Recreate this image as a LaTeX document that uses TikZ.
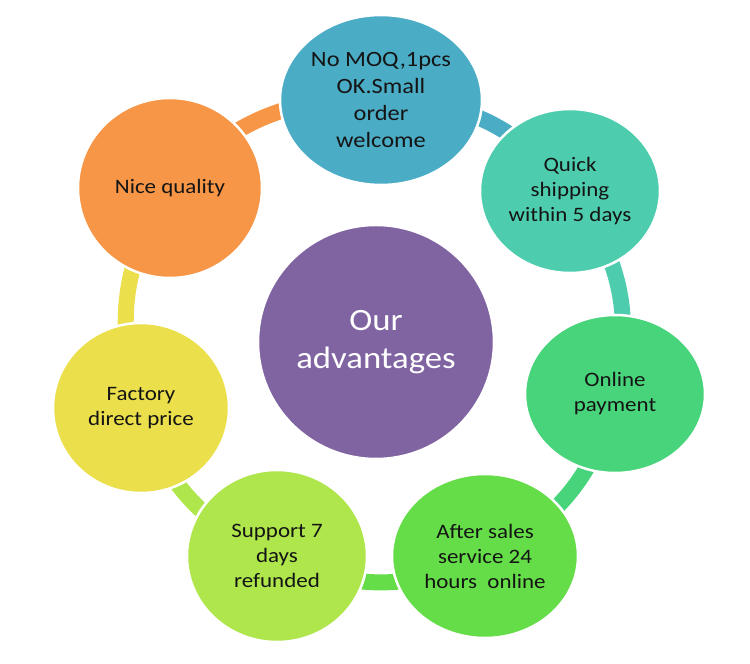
\documentclass[tikz,border=0pt]{standalone}
\usepackage{fontspec}
\setmainfont{Carlito}[FakeStretch=1.12]
\usetikzlibrary{shapes.geometric,backgrounds}
\definecolor{cpurple}{HTML}{8064A2}
\definecolor{cblue}{HTML}{4BACC6}
\definecolor{cteal}{HTML}{4ECDAE}
\definecolor{cgreen}{HTML}{48D47A}
\definecolor{cgreenb}{HTML}{64DD48}
\definecolor{clime}{HTML}{AEE64C}
\definecolor{cyellow}{HTML}{EBE04B}
\definecolor{corange}{HTML}{F79646}
\definecolor{ctext}{HTML}{141414}
\tikzset{
  bubble/.style={ellipse, draw=white, line width=2.5pt, inner sep=0pt, align=center,
    text=ctext, font=\fontsize{20.5}{25}\selectfont},
  conn/.style={line width=16pt, bend left=25.7}
}
\begin{document}
\begin{tikzpicture}[x=1pt,y=1pt]
\useasboundingbox (0,0) rectangle (750,664);
\node[bubble, fill=cpurple, minimum width=236pt, minimum height=234pt, text=white,
  font=\fontsize{31}{38}\selectfont] (c) at (376,322) {Our\\advantages};
\node[bubble, fill=cblue, minimum width=202pt, minimum height=170pt,
  font=\fontsize{21.8}{26.7}\selectfont] (n1) at (381,564) {No MOQ,1pcs\\OK.Small\\order\\welcome};
\node[bubble, fill=cteal, minimum width=180pt, minimum height=164pt] (n2) at (570,473) {Quick\\shipping\\within 5 days};
\node[bubble, fill=cgreen, minimum width=180pt, minimum height=158pt] (n3) at (615,270) {Online\\payment};
\node[bubble, fill=cgreenb, minimum width=186pt, minimum height=164pt] (n4) at (485,108) {After sales\\service 24\\hours\ \ online};
\node[bubble, fill=clime, minimum width=180pt, minimum height=172pt] (n5) at (277,108) {Support 7\\days\\refunded};
\node[bubble, fill=cyellow, minimum width=176pt, minimum height=170pt] (n6) at (141,256) {Factory\\direct price};
\node[bubble, fill=corange, minimum width=184pt, minimum height=180pt] (n7) at (170,476) {Nice quality};
\begin{scope}[on background layer]
\fill[white] (0,0) rectangle (750,664);
\draw[conn, cblue] (n1.center) to (n2.center);
\draw[conn, cteal] (n2.center) to (n3.center);
\draw[conn, cgreen] (n3.center) to (n4.center);
\draw[conn, cgreenb] (n4.center) to (n5.center);
\draw[conn, clime] (n5.center) to (n6.center);
\draw[conn, cyellow] (n6.center) to (n7.center);
\draw[conn, corange] (n7.center) to (n1.center);
\end{scope}
\end{tikzpicture}
\end{document}
